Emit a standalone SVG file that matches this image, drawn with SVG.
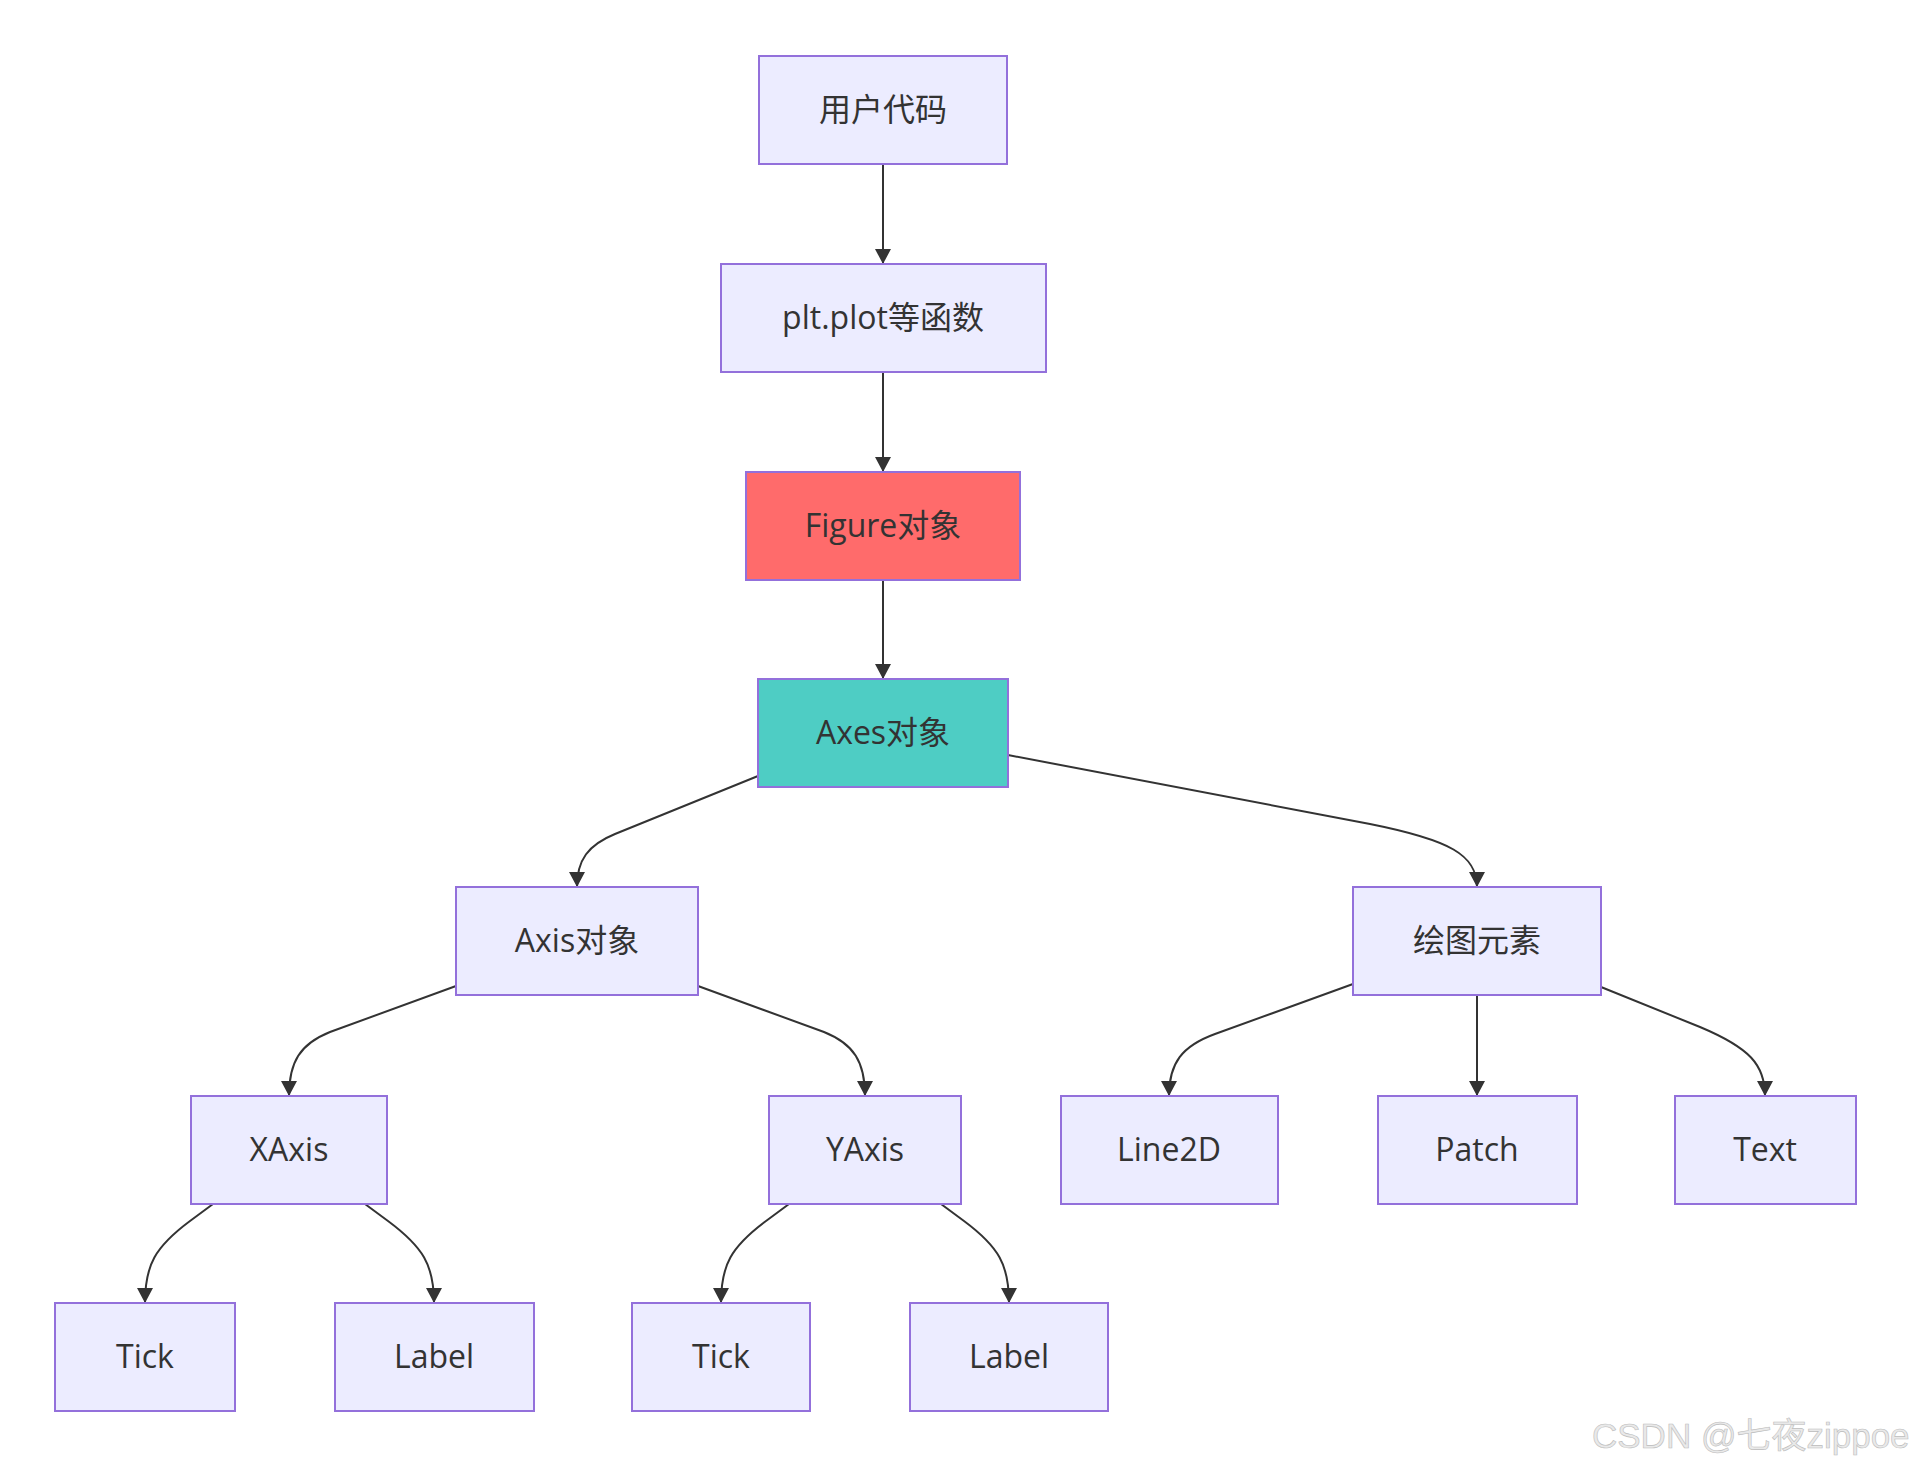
<svg xmlns="http://www.w3.org/2000/svg" width="1913" height="1467" viewBox="0 0 1913 1467">
<style>
.node rect{fill:#ECECFF;stroke:#9370DB;stroke-width:2}
.node text{font-family:"Open Sans","Noto Sans CJK SC",sans-serif;font-size:32px;fill:#333;text-anchor:middle}
#edges path{fill:none;stroke:#333;stroke-width:2;marker-end:url(#arrow)}
.wm{font-family:"Liberation Sans","Noto Sans CJK SC",sans-serif;font-size:35px;fill:#e9e9e9;stroke:#bcbcbc;stroke-width:0.6}
</style>
<defs>
<marker id="arrow" viewBox="0 0 15 16" refX="15" refY="8" markerWidth="15" markerHeight="16" markerUnits="userSpaceOnUse" orient="auto">
<path d="M0,0 L15,8 L0,16 z" fill="#333"/>
</marker>
</defs>
<rect width="1913" height="1467" fill="#fff"/>
<g id="edges">
<path d="M883,164 L883,264"/>
<path d="M883,372 L883,472"/>
<path d="M883,580 L883,679"/>
<path d="M758,776 L615,834 C588,845 577,860 577,887"/>
<path d="M1008,755 L1370,824 C1450,840 1477,855 1477,887"/>
<path d="M456,986 L330,1032 C300,1044 289,1062 289,1096"/>
<path d="M698,986 L824,1032 C854,1044 865,1062 865,1096"/>
<path d="M1353,984 L1215,1034 C1182,1046 1169,1063 1169,1096"/>
<path d="M1477,996 L1477,1096"/>
<path d="M1601,987 L1700,1027 C1750,1048 1765,1065 1765,1096"/>
<path d="M213,1204 L190,1221 C155,1247 145,1265 145,1303"/>
<path d="M365,1204 L388,1221 C423,1247 434,1265 434,1303"/>
<path d="M789,1204 L766,1221 C731,1247 721,1265 721,1303"/>
<path d="M941,1204 L964,1221 C999,1247 1009,1265 1009,1303"/>
</g>
<g id="n-user" class="node"><rect x="759" y="56" width="248" height="108"/><text x="883" y="121">用户代码</text></g>
<g id="n-plt" class="node"><rect x="721" y="264" width="325" height="108"/><text x="883" y="329">plt.plot等函数</text></g>
<g id="n-figure" class="node"><rect x="746" y="472" width="274" height="108" style="fill:#ff6b6b"/><text x="883" y="537">Figure对象</text></g>
<g id="n-axes" class="node"><rect x="758" y="679" width="250" height="108" style="fill:#4ecdc4"/><text x="883" y="744">Axes对象</text></g>
<g id="n-axis" class="node"><rect x="456" y="887" width="242" height="108"/><text x="577" y="952">Axis对象</text></g>
<g id="n-draw" class="node"><rect x="1353" y="887" width="248" height="108"/><text x="1477" y="952">绘图元素</text></g>
<g id="n-xaxis" class="node"><rect x="191" y="1096" width="196" height="108"/><text x="289" y="1161">XAxis</text></g>
<g id="n-yaxis" class="node"><rect x="769" y="1096" width="192" height="108"/><text x="865" y="1161">YAxis</text></g>
<g id="n-line2d" class="node"><rect x="1061" y="1096" width="217" height="108"/><text x="1169" y="1161">Line2D</text></g>
<g id="n-patch" class="node"><rect x="1378" y="1096" width="199" height="108"/><text x="1477" y="1161">Patch</text></g>
<g id="n-text" class="node"><rect x="1675" y="1096" width="181" height="108"/><text x="1765" y="1161">Text</text></g>
<g id="n-tick1" class="node"><rect x="55" y="1303" width="180" height="108"/><text x="145" y="1368">Tick</text></g>
<g id="n-label1" class="node"><rect x="335" y="1303" width="199" height="108"/><text x="434" y="1368">Label</text></g>
<g id="n-tick2" class="node"><rect x="632" y="1303" width="178" height="108"/><text x="721" y="1368">Tick</text></g>
<g id="n-label2" class="node"><rect x="910" y="1303" width="198" height="108"/><text x="1009" y="1368">Label</text></g>
<text class="wm" x="1592" y="1448">CSDN @七夜zippoe</text>
</svg>
